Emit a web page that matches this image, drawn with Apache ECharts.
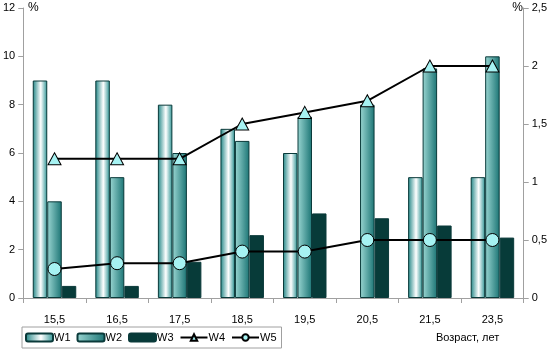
<!DOCTYPE html>
<html><head><meta charset="utf-8">
<script src="https://cdn.jsdelivr.net/npm/echarts@6/dist/echarts.min.js"></script>
<style>html,body{margin:0;padding:0;background:#fff}#c{width:550px;height:356px}</style>
</head><body><div id="c"></div>
<script>
const categories = ['15,5','16,5','17,5','18,5','19,5','20,5','21,5','23,5'];
const w1 = [9, 9, 8, 7, 6, null, 5, 5];
const w2 = [4, 5, 6, 6.5, 7.5, 8, 9.5, 10];
const w3 = [0.5, 0.5, 1.5, 2.6, 3.5, 3.3, 3.0, 2.5];
const w4 = [1.2, 1.2, 1.2, 1.5, 1.6, 1.7, 2, 2];
const w5 = [0.25, 0.3, 0.3, 0.4, 0.4, 0.5, 0.5, 0.5];
const leftTicks = [0, 2, 4, 6, 8, 10, 12];
const rightTicks = [0, 0.5, 1, 1.5, 2, 2.5];

const font = 'Liberation Sans, Arial, sans-serif';
const g1 = new echarts.graphic.LinearGradient(0,0,1,0,[
  {offset:0,color:'#1f8585'},{offset:0.55,color:'#ffffff'},{offset:1,color:'#2a9292'}]);
const g2 = new echarts.graphic.LinearGradient(0,0,1,0,[
  {offset:0,color:'#9ad6d2'},{offset:1,color:'#1b7474'}]);
const barBorder = {borderColor:'#0a3a3a', borderWidth:1};
const fmt = v => String(v).replace('.', ',');

const chart = echarts.init(document.getElementById('c'), null, {renderer:'canvas'});
chart.setOption({
  animation:false,
  textStyle:{fontFamily:font},
  grid:{left:22, right:24, top:8, bottom:58, containLabel:false},
  legend:{
    left:22, top:327,
    itemWidth:27, itemHeight:8, itemGap:6,
    padding:[5,5,5,3],
    borderColor:'#a0a0a0', borderWidth:1,
    textStyle:{fontFamily:font, fontSize:11, color:'#000', padding:[0,0,0,-4]},
    data:['W1','W2','W3','W4','W5']
  },
  xAxis:{
    type:'category', data:categories,
    axisLine:{lineStyle:{color:'#a0a0a0'}},
    axisTick:{show:true, length:5, lineStyle:{color:'#a0a0a0'}},
    axisLabel:{color:'#000', fontSize:11, margin:16, fontFamily:font}
  },
  yAxis:[
    {type:'value', min:0, max:12, interval:2, splitLine:{show:false},
     axisLine:{show:true, lineStyle:{color:'#a0a0a0'}},
     axisTick:{show:true, length:5, lineStyle:{color:'#a0a0a0'}},
     axisLabel:{color:'#000', fontSize:11, margin:8, fontFamily:font}},
    {type:'value', min:0, max:2.5, interval:0.5, position:'right', splitLine:{show:false},
     axisLine:{show:true, lineStyle:{color:'#a0a0a0'}},
     axisTick:{show:true, length:5, lineStyle:{color:'#a0a0a0'}},
     axisLabel:{color:'#000', fontSize:11, margin:8, fontFamily:font, formatter:fmt}}
  ],
  series:[
    {name:'W1', type:'bar', data:w1, barWidth:14.5, barGap:'0%', itemStyle:Object.assign({color:g1}, barBorder)},
    {name:'W2', type:'bar', data:w2, barWidth:14.5, barGap:'0%', itemStyle:Object.assign({color:g2}, barBorder)},
    {name:'W3', type:'bar', data:w3, barWidth:14.5, barGap:'0%', itemStyle:Object.assign({color:'#073b39'}, barBorder)},
    {name:'W4', type:'line', yAxisIndex:1, data:w4, symbol:'triangle', symbolSize:[13,12],
     lineStyle:{color:'#000', width:2}, itemStyle:{color:'#a6f2f2', borderColor:'#000', borderWidth:1}, z:5},
    {name:'W5', type:'line', yAxisIndex:1, data:w5, symbol:'circle', symbolSize:13,
     lineStyle:{color:'#000', width:2}, itemStyle:{color:'#a6f2f2', borderColor:'#000', borderWidth:1}, z:5}
  ],
  graphic:[
    {type:'text', left:28, top:2, style:{text:'%', font:'12px '+font, fill:'#000'}},
    {type:'text', right:27, top:2, style:{text:'%', font:'12px '+font, fill:'#000'}},
    {type:'text', left:436, top:332, style:{text:'Возраст, лет', font:'11px '+font, fill:'#000'}}
  ]
});
</script></body></html>
